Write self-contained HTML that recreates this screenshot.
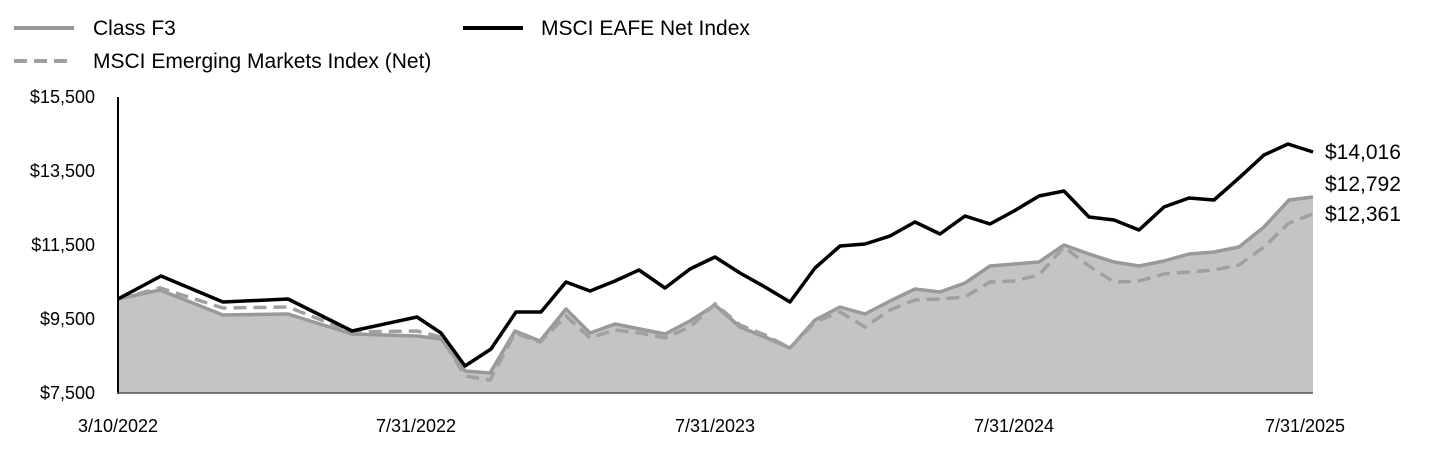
<!DOCTYPE html>
<html><head><meta charset="utf-8"><style>
body{margin:0;background:#fff;}
svg{display:block;font-family:"Liberation Sans",Arial,sans-serif;}
</style></head><body>
<svg width="1440" height="468" viewBox="0 0 1440 468">
<line x1="14" y1="28" x2="74" y2="28" stroke="#999" stroke-width="4"/>
<text x="93" y="35" font-size="21">Class F3</text>
<line x1="14" y1="61" x2="74" y2="61" stroke="#a0a0a0" stroke-width="4" stroke-dasharray="13,7"/>
<text x="93" y="68" font-size="21">MSCI Emerging Markets Index (Net)</text>
<line x1="463" y1="28" x2="523" y2="28" stroke="#000" stroke-width="4"/>
<text x="541" y="35" font-size="21">MSCI EAFE Net Index</text>
<g font-size="18" text-anchor="end">
<text x="95" y="103">$15,500</text>
<text x="95" y="177">$13,500</text>
<text x="95" y="251">$11,500</text>
<text x="95" y="325">$9,500</text>
<text x="95" y="399">$7,500</text>
</g>
<g font-size="18" text-anchor="middle">
<text x="118" y="432">3/10/2022</text>
<text x="416" y="432">7/31/2022</text>
<text x="715" y="432">7/31/2023</text>
<text x="1014" y="432">7/31/2024</text>
<text x="1305" y="432">7/31/2025</text>
</g>
<polygon fill="#c4c4c4" points="118,393 118,299 160,290 223,315 288,314 352,334 417,336 441,339 465,371 490,373 515,331 540,341 566,309 590,333 615,324 640,329 665,334 690,321 715,305 740,327 765,337 790,348 815,320 840,307 865,314 890,301 915,289 940,292 965,283 990,266 1014,264 1039,262 1064,245 1089,254 1114,262 1139,266 1164,261 1189,254 1214,252 1239,247 1264,227 1289,200 1313,197 1313,393"/>
<polyline fill="none" stroke="#999" stroke-width="3.5" stroke-linejoin="round" points="118,299 160,290 223,315 288,314 352,334 417,336 441,339 465,371 490,373 515,331 540,341 566,309 590,333 615,324 640,329 665,334 690,321 715,305 740,327 765,337 790,348 815,320 840,307 865,314 890,301 915,289 940,292 965,283 990,266 1014,264 1039,262 1064,245 1089,254 1114,262 1139,266 1164,261 1189,254 1214,252 1239,247 1264,227 1289,200 1313,197"/>
<polyline fill="none" stroke="#a0a0a0" stroke-width="3.5" stroke-dasharray="13,7" points="118,299 160,288 223,308 288,307 352,332 417,331 441,337 465,376 490,380 515,333 540,342 566,316 590,338 615,330 640,333 665,338 690,327 715,304 740,325 765,335 790,348 815,322 840,312 865,327 890,310 915,300 940,299 965,297 990,282 1014,281 1039,275 1064,247 1089,266 1114,282 1139,281 1164,274 1189,272 1214,270 1239,265 1264,247 1289,223 1313,214"/>
<polyline fill="none" stroke="#000" stroke-width="3.5" stroke-linejoin="round" points="118,299 161,276 223,302 288,299 352,331 417,317 441,333 465,366 491,349 516,312 541,312 566,282 590,291 615,281 639,270 665,288 690,269 715,257 740,273 765,287 790,302 815,268 840,246 865,244 890,236 915,222 940,234 965,216 990,224 1014,211 1039,196 1064,191 1089,217 1114,220 1139,230 1164,207 1189,198 1214,200 1239,178 1264,155 1288,144 1313,152"/>
<line x1="118" y1="97" x2="118" y2="394" stroke="#000" stroke-width="2"/>
<line x1="117" y1="393" x2="1313" y2="393" stroke="#555" stroke-width="1.5"/>
<g font-size="21">
<text x="1325" y="159">$14,016</text>
<text x="1325" y="191">$12,792</text>
<text x="1325" y="221">$12,361</text>
</g>
</svg>
</body></html>
